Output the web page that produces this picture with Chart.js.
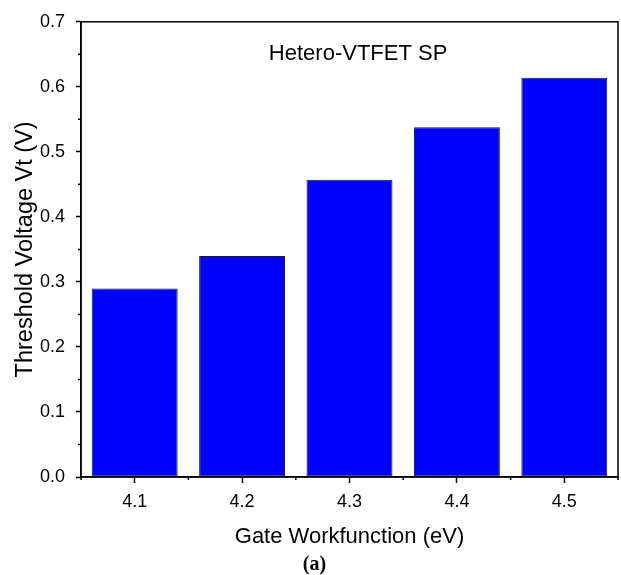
<!DOCTYPE html>
<html>
<head>
<meta charset="utf-8">
<script src="https://cdn.jsdelivr.net/npm/chart.js@4/dist/chart.umd.min.js"></script>
<style>
  html, body { margin: 0; padding: 0; background: #fff; }
  #wrap { width: 621px; height: 575px; }
</style>
</head>
<body>
<div id="wrap"><canvas id="myChart" width="621" height="575"></canvas></div>
<script>
var categories = ['4.1', '4.2', '4.3', '4.4', '4.5'];
var vtValues = [0.290, 0.340, 0.457, 0.538, 0.614];
var yMin = 0, yMax = 0.7, yStep = 0.1;

var seriesLabel = 'Hetero-VTFET SP';
var xTitle = 'Gate Workfunction (eV)';
var yTitle = 'Threshold Voltage Vt (V)';
var panelLabel = '(a)';

Chart.defaults.color = '#000';
Chart.defaults.font.family = '"Liberation Sans", Arial, sans-serif';

// frame, minor ticks and the in-plot texts
var framePlugin = {
    id: 'frame',
    afterDraw: function (chart) {
        var ctx = chart.ctx;
        var a = chart.chartArea;
        var xs = chart.scales.x, ys = chart.scales.y;
        ctx.save();
        ctx.strokeStyle = '#000';
        ctx.lineWidth = 1.5;
        ctx.strokeRect(a.left, a.top, a.right - a.left, a.bottom - a.top);

        ctx.beginPath();
        var t = ys.ticks;
        for (var i = 0; i < t.length - 1; i++) {
            var py = ys.getPixelForValue((t[i].value + t[i + 1].value) / 2);
            ctx.moveTo(a.left - 3, py);
            ctx.lineTo(a.left, py);
        }
        for (var j = 0; j <= categories.length; j++) {
            var px = xs.getPixelForValue(j - 0.5);
            ctx.moveTo(px, a.bottom);
            ctx.lineTo(px, a.bottom + 3);
        }
        ctx.stroke();

        ctx.fillStyle = '#000';
        ctx.textAlign = 'center';
        ctx.textBaseline = 'middle';
        ctx.font = '22px "Liberation Sans", Arial, sans-serif';
        ctx.fillText(seriesLabel, xs.getPixelForValue(2.08), ys.getPixelForValue(0.65));

        ctx.font = 'bold 20px "Liberation Serif", "Times New Roman", serif';
        ctx.fillText(panelLabel, chart.width / 2 + 4, chart.height - 10.5);
        ctx.restore();
    }
};

var ctx = document.getElementById('myChart');

var myChart = new Chart(ctx, {
    type: 'bar',
    data: {
        labels: categories,
        datasets: [{
            label: seriesLabel,
            data: vtValues,
            backgroundColor: '#0000ff',
            borderColor: '#1a1a1a',
            borderWidth: 1,
            borderSkipped: false,
            barPercentage: 0.8,
            categoryPercentage: 1.0
        }]
    },
    options: {
        responsive: false,
        animation: false,
        layout: {
            padding: { top: 14.5, right: 3, left: 0, bottom: 24 }
        },
        plugins: {
            legend: { display: false },
            tooltip: { enabled: false }
        },
        scales: {
            x: {
                offset: true,
                grid: {
                    offset: false,
                    drawOnChartArea: false,
                    tickLength: 6,
                    tickColor: '#000',
                    tickWidth: 1.5
                },
                border: { display: true, color: '#000', width: 1.5 },
                ticks: {
                    font: { size: 18 },
                    padding: 8,
                    maxRotation: 0
                },
                title: {
                    display: true,
                    text: xTitle,
                    font: { size: 22 },
                    padding: { top: 0, bottom: 0.4 }
                },
                afterFit: function (scale) { scale.height = 74; }
            },
            y: {
                min: yMin,
                max: yMax,
                grid: {
                    drawOnChartArea: false,
                    tickLength: 5,
                    tickColor: '#000',
                    tickWidth: 1.5
                },
                border: { display: true, color: '#000', width: 1.5 },
                ticks: {
                    stepSize: yStep,
                    font: { size: 18 },
                    padding: 11,
                    callback: function (v) { return v.toFixed(1); }
                },
                title: {
                    display: true,
                    text: yTitle,
                    font: { size: 23.5 },
                    padding: { top: 11.2, bottom: 0 }
                },
                afterFit: function (scale) { scale.width = 81; }
            }
        }
    },
    plugins: [framePlugin]
});
</script>
</body>
</html>
